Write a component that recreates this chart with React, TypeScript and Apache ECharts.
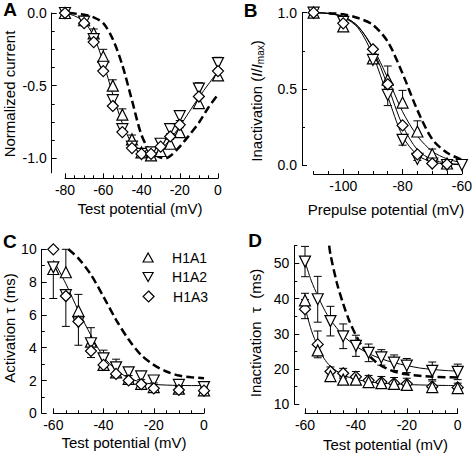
import React, { useEffect, useRef } from "react";
import * as echarts from "echarts";

const FONT = '"Liberation Sans", Arial, Helvetica, sans-serif';

// ---------- Series names ----------
const NAMES = ["H1A1", "H1A2", "H1A3"];

// ---------- Panel A: normalized current vs test potential ----------
const A_X = [-80, -70, -65, -60, -55, -50, -45, -40, -35, -30, -25, -20, -10, 0];
const A_H1A1 = [0, -0.05, -0.14, -0.3, -0.5, -0.7, -0.87, -0.96, -0.98, -0.95, -0.9, -0.82, -0.62, -0.43];
const A_H1A1_ERR = [0, 0, 0.03, 0.05, 0.04, 0.04, 0.03, 0.02, 0.02, 0.02, 0.03, 0.03, 0.04, 0.03];
const A_H1A2 = [0, -0.06, -0.18, -0.37, -0.6, -0.8, -0.92, -0.97, -0.96, -0.9, -0.8, -0.71, -0.52, -0.345];
const A_H1A2_ERR = [0, 0, 0.02, 0.04, 0.03, 0.02, 0.02, 0.02, 0.02, 0.03, 0.03, 0.03, 0.04, 0.04];
const A_H1A3 = [0, -0.07, -0.2, -0.4, -0.64, -0.82, -0.93, -0.97, -0.97, -0.92, -0.85, -0.77, -0.575, -0.4];
const A_FIT_X = [-80, -75, -70, -65, -60, -55, -50, -45, -40, -35, -30, -25, -20, -15, -10, -5, 0];
const A_FIT = [0, -0.02, -0.06, -0.16, -0.34, -0.56, -0.76, -0.9, -0.97, -0.98, -0.94, -0.87, -0.78, -0.68, -0.58, -0.49, -0.4];
const A_DASH_X = [-78, -75, -70, -65, -60, -55, -50, -45, -40, -35, -30, -27.5, -25, -20, -15, -10, -5, 0];
const A_DASH = [0, -0.003, -0.012, -0.03, -0.07, -0.18, -0.36, -0.6, -0.84, -0.96, -0.995, -1.0, -0.985, -0.92, -0.84, -0.755, -0.65, -0.56];

// ---------- Panel B: inactivation vs prepulse potential ----------
const B_X = [-110, -100, -90, -85, -80, -75, -70, -65, -60];
const B_H1A1 = [1.0, 0.91, 0.7, 0.56, 0.41, 0.22, 0.07, 0.01, null];
const B_H1A1_ERR = [0, 0.01, 0.02, 0.09, 0.08, 0.07, 0.035, 0, 0];
const B_H1A2 = [1.0, 0.94, 0.69, 0.46, 0.165, 0.04, 0.01, 0.0, 0.0];
const B_H1A2_ERR = [0, 0.01, 0.02, 0.07, 0.035, 0.01, 0, 0, 0];
const B_H1A3 = [1.0, 0.93, 0.76, 0.53, 0.26, 0.07, 0.01, 0.005, null];
const B_FIT_X = [-110, -105, -100, -95, -90, -85, -80, -75, -70, -65, -60];
const B_FIT_H1A1 = [1.0, 0.995, 0.975, 0.91, 0.77, 0.57, 0.35, 0.19, 0.09, 0.04, 0.015];
const B_FIT_H1A2 = [1.0, 0.995, 0.97, 0.9, 0.72, 0.45, 0.19, 0.065, 0.02, 0.006, 0.002];
const B_FIT_H1A3 = [1.0, 0.995, 0.975, 0.91, 0.76, 0.52, 0.26, 0.1, 0.035, 0.012, 0.004];
const B_DASH_X = [-105, -100, -95, -90, -85, -80, -75, -70, -65, -60];
const B_DASH = [0.997, 0.99, 0.965, 0.92, 0.81, 0.6, 0.36, 0.17, 0.08, 0.035];

// ---------- Panel C: activation tau ----------
const C_X = [-60, -55, -50, -45, -40, -35, -30, -25, -20, -10, 0];
const C_H1A1 = [8.8, 8.6, 6.25, 4.37, 2.95, 2.5, 2.1, 1.8, 1.6, 1.5, 1.4];
const C_H1A1_ERR = [0, 1.4, 1.0, 0.85, 0.9, 0.8, 0.65, 0.75, 0.6, 0.2, 0.2];
const C_H1A2 = [8.9, 7.2, 5.55, 4.27, 3.35, 2.8, 2.5, 2.25, 2.0, 1.73, 1.6];
const C_H1A2_ERR = [1.9, 1.9, 1.4, 0.87, 0.4, 0.3, 0.2, 0.2, 0.15, 0.1, 0.1];
const C_H1A3 = [10.0, 7.15, 5.6, 3.8, 2.95, 2.4, 2.0, 1.77, 1.52, 1.42, 1.38];
const C_FIT_X = [-60, -55, -50, -45, -40, -35, -30, -25, -20, -15, -10, -5, 0];
const C_FIT = [9.35, 7.9, 6.25, 4.75, 3.45, 2.65, 2.15, 1.9, 1.77, 1.72, 1.7, 1.69, 1.69];
const C_DASH_X = [-54, -50, -45, -40, -35, -30, -25, -20, -15, -10, -5, 0];
const C_DASH = [10.0, 9.45, 8.45, 7.1, 5.7, 4.5, 3.55, 2.95, 2.55, 2.3, 2.2, 2.13];

// ---------- Panel D: inactivation tau ----------
const D_X = [-60, -55, -50, -45, -40, -35, -30, -25, -20, -10, 0];
const D_H1A1 = [39.5, 25.3, 18.0, 17.0, 17.0, 16.3, 16.0, 15.8, 15.5, 14.9, 14.6];
const D_H1A1_ERR = [2.0, 1.5, 0.8, 0.8, 0.8, 0.7, 0.7, 0.7, 0.7, 0.6, 0.6];
const D_H1A2 = [50.5, 39.8, 33.6, 29.3, 26.6, 24.6, 23.3, 21.8, 21.0, 19.5, 19.2];
const D_H1A2_ERR = [4.3, 6.5, 4.2, 3.5, 3.0, 2.5, 2.2, 2.2, 2.0, 2.5, 2.2];
const D_H1A3 = [37.0, 27.0, 19.3, 18.8, 17.8, 16.8, 16.3, 16.0, 15.8, 15.0, 14.8];
const D_H1A3_ERR = [2.7, 3.8, 1.3, 1.4, 1.5, 1.4, 1.6, 1.6, 1.6, 1.6, 1.2];
const D_FIT_X = [-60, -57.5, -55, -52.5, -50, -45, -40, -35, -30, -25, -20, -15, -10, -5, 0];
const D_FIT_H1A2 = [50.5, 45, 40.8, 37, 34, 29.5, 26.5, 24.4, 22.9, 21.8, 21.0, 20.3, 19.9, 19.6, 19.4];
const D_FIT_LOW = [37.5, 31, 26.5, 23, 20.8, 18.3, 17.1, 16.4, 16.0, 15.8, 15.6, 15.5, 15.4, 15.35, 15.3];
const D_DASH_X = [-50.5, -50, -47.5, -45, -42.5, -40, -37.5, -35, -32.5, -30, -25, -20, -15, -10, -5, 0];
const D_DASH = [55, 52.5, 44.5, 38.5, 33.5, 29.6, 26.4, 24, 22.2, 20.9, 19.3, 18.5, 18.1, 17.8, 17.7, 17.6];

// ---------- Tick values ----------
const A_XTICKS = [-80, -60, -40, -20, 0];
const A_XMINOR = [-75, -70, -65, -55, -50, -45, -35, -30, -25, -15, -10, -5];
const A_YTICKS = [-1, -0.5, 0];
const A_YMINOR = [-0.875, -0.75, -0.625, -0.375, -0.25, -0.125];
const B_XTICKS = [-100, -80, -60];
const B_XMINOR = [-110, -105, -95, -90, -85, -75, -70, -65];
const B_YTICKS = [0, 0.5, 1];
const B_YMINOR = [0.25, 0.75];
const C_XTICKS = [-60, -40, -20, 0];
const C_XMINOR = [-55, -50, -45, -35, -30, -25, -15, -10, -5];
const C_YTICKS = [0, 2, 4, 6, 8, 10];
const C_YMINOR = [1, 3, 5, 7, 9];
const D_XTICKS = [-60, -40, -20, 0];
const D_XMINOR = [-55, -50, -45, -35, -30, -25, -15, -10, -5];
const D_YTICKS = [10, 20, 30, 40, 50];
const D_YMINOR = [15, 25, 35, 45, 55];

type Dir = "up" | "down" | "both";

const pairs = (xs: number[], ys: (number | null)[]) =>
  xs.map((x, i) => [x, ys[i]]).filter((p) => p[1] !== null && p[1] !== undefined);

const errData = (xs: number[], ys: (number | null)[], es: number[], dir: Dir) =>
  xs
    .map((x, i) => {
      const y = ys[i];
      const e = es[i];
      if (y === null || y === undefined || !e) return null;
      const lo = dir === "up" ? y : y - e;
      const hi = dir === "down" ? y : y + e;
      return [x, y, lo, hi];
    })
    .filter(Boolean);

const SYM: Record<string, { symbol: string; rotate: number; size: number }> = {
  H1A1: { symbol: "triangle", rotate: 0, size: 11 },
  H1A2: { symbol: "triangle", rotate: 180, size: 11 },
  H1A3: { symbol: "diamond", rotate: 0, size: 11 },
};

const lineBlack = { color: "#000", width: 1 };

function makeAxes(
  grid: number,
  dim: "x" | "y",
  min: number,
  max: number,
  offset: number,
  major: number[],
  minor: number[],
  fmt: (v: number) => string
) {
  const pos = dim === "x" ? "bottom" : "left";
  const main = {
    type: "value",
    gridIndex: grid,
    min,
    max,
    position: pos,
    offset,
    axisLine: { show: true, onZero: false, lineStyle: lineBlack },
    axisTick: { show: true, inside: true, length: 5, customValues: major, lineStyle: lineBlack },
    axisLabel: {
      show: true,
      customValues: major,
      margin: 5,
      fontSize: 14,
      fontFamily: FONT,
      color: "#000",
      formatter: (v: number) => fmt(v),
    },
    splitLine: { show: false },
  };
  const mn = {
    type: "value",
    gridIndex: grid,
    min,
    max,
    position: pos,
    offset,
    axisLine: { show: false, onZero: false },
    axisTick: { show: true, inside: true, length: 3, customValues: minor, lineStyle: lineBlack },
    axisLabel: { show: false },
    splitLine: { show: false },
  };
  return [main, mn];
}

const intFmt = (v: number) => String(Math.round(v));
const oneFmt = (v: number) => v.toFixed(1);

function scatter(p: number, name: string, xs: number[], ys: (number | null)[]) {
  const s = SYM[name];
  return {
    type: "scatter",
    name,
    xAxisIndex: 2 * p,
    yAxisIndex: 2 * p,
    data: pairs(xs, ys),
    symbol: s.symbol,
    symbolRotate: s.rotate,
    symbolSize: s.size,
    itemStyle: { color: "#fff", borderColor: "#000", borderWidth: 1.2, opacity: 1 },
    emphasis: { disabled: true },
    clip: false,
    z: 4,
  };
}

function errSeries(p: number, xs: number[], ys: (number | null)[], es: number[], dir: Dir) {
  return {
    type: "custom",
    name: "err",
    xAxisIndex: 2 * p,
    yAxisIndex: 2 * p,
    data: errData(xs, ys, es, dir),
    encode: { x: 0, y: 1 },
    clip: false,
    z: 3,
    renderItem: (params: any, api: any) => {
      const x = api.value(0);
      const y = api.value(1);
      const lo = api.value(2);
      const hi = api.value(3);
      const pL = api.coord([x, lo]);
      const pH = api.coord([x, hi]);
      const w = 4;
      const st = { stroke: "#000", lineWidth: 1 };
      const children: any[] = [
        { type: "line", shape: { x1: pL[0], y1: pL[1], x2: pH[0], y2: pH[1] }, style: st },
      ];
      if (hi !== y)
        children.push({ type: "line", shape: { x1: pH[0] - w, y1: pH[1], x2: pH[0] + w, y2: pH[1] }, style: st });
      if (lo !== y)
        children.push({ type: "line", shape: { x1: pL[0] - w, y1: pL[1], x2: pL[0] + w, y2: pL[1] }, style: st });
      return { type: "group", children };
    },
  };
}

function curve(p: number, xs: number[], ys: number[], dashed: boolean) {
  return {
    type: "line",
    name: dashed ? "dash" : "fit",
    xAxisIndex: 2 * p,
    yAxisIndex: 2 * p,
    data: pairs(xs, ys),
    symbol: "none",
    showSymbol: false,
    smooth: 0.3,
    lineStyle: dashed
      ? { color: "#000", width: 2.5, type: [8, 4] }
      : { color: "#000", width: 1 },
    emphasis: { disabled: true },
    clip: false,
    silent: true,
    z: 2,
  };
}

function title(text: string, x: number, y: number, rotate = false, size = 15) {
  return {
    type: "text",
    x,
    y,
    rotation: rotate ? Math.PI / 2 : 0,
    style: {
      text,
      fontSize: size,
      fontFamily: FONT,
      fill: "#000",
      align: "center",
      verticalAlign: "middle",
    },
  };
}

function letter(text: string, x: number, y: number) {
  return {
    type: "text",
    x,
    y,
    style: {
      text,
      fontSize: 19,
      fontWeight: "bold",
      fontFamily: FONT,
      fill: "#000",
      align: "center",
      verticalAlign: "middle",
    },
  };
}

export default function App() {
  const ref = useRef<HTMLDivElement>(null);
  useEffect(() => {
    if (!ref.current) return;
    const chart = echarts.init(ref.current, null, { renderer: "svg" });

    const grids = [
      { left: 65, top: 13, width: 153, height: 159.8 },
      { left: 313.6, top: 12.7, width: 152, height: 152.3 },
      { left: 53.3, top: 249.3, width: 150.7, height: 164 },
      { left: 305, top: 245.7, width: 152.7, height: 158.6 },
    ];

    const xAxes = [
      ...makeAxes(0, "x", -80, 0, 5.5, A_XTICKS, A_XMINOR, intFmt),
      ...makeAxes(1, "x", -110, -60, 9, B_XTICKS, B_XMINOR, intFmt),
      ...makeAxes(2, "x", -60, 0, 0, C_XTICKS, C_XMINOR, intFmt),
      ...makeAxes(3, "x", -60, 0, 9, D_XTICKS, D_XMINOR, intFmt),
    ];
    const yAxes = [
      ...makeAxes(0, "y", -1.1, 0, 13.3, A_YTICKS, A_YMINOR, oneFmt),
      ...makeAxes(1, "y", 0, 1, 11.6, B_YTICKS, B_YMINOR, oneFmt),
      ...makeAxes(2, "y", 0, 10, 11.6, C_YTICKS, C_YMINOR, intFmt),
      ...makeAxes(3, "y", 10, 55, 10.7, D_YTICKS, D_YMINOR, intFmt),
    ];

    const series: any[] = [
      // Panel A
      curve(0, A_FIT_X, A_FIT, false),
      curve(0, A_DASH_X, A_DASH, true),
      errSeries(0, A_X, A_H1A1, A_H1A1_ERR, "up"),
      errSeries(0, A_X, A_H1A2, A_H1A2_ERR, "both"),
      scatter(0, "H1A1", A_X, A_H1A1),
      scatter(0, "H1A2", A_X, A_H1A2),
      scatter(0, "H1A3", A_X, A_H1A3),
      // Panel B
      curve(1, B_FIT_X, B_FIT_H1A1, false),
      curve(1, B_FIT_X, B_FIT_H1A2, false),
      curve(1, B_FIT_X, B_FIT_H1A3, false),
      curve(1, B_DASH_X, B_DASH, true),
      errSeries(1, B_X, B_H1A1, B_H1A1_ERR, "up"),
      errSeries(1, B_X, B_H1A2, B_H1A2_ERR, "down"),
      scatter(1, "H1A1", B_X, B_H1A1),
      scatter(1, "H1A2", B_X, B_H1A2),
      scatter(1, "H1A3", B_X, B_H1A3),
      // Panel C
      curve(2, C_FIT_X, C_FIT, false),
      curve(2, C_DASH_X, C_DASH, true),
      errSeries(2, C_X, C_H1A1, C_H1A1_ERR, "up"),
      errSeries(2, C_X, C_H1A2, C_H1A2_ERR, "down"),
      scatter(2, "H1A1", C_X, C_H1A1),
      scatter(2, "H1A2", C_X, C_H1A2),
      scatter(2, "H1A3", C_X, C_H1A3),
      // Panel D
      curve(3, D_FIT_X, D_FIT_H1A2, false),
      curve(3, D_FIT_X, D_FIT_LOW, false),
      curve(3, D_DASH_X, D_DASH, true),
      errSeries(3, D_X, D_H1A2, D_H1A2_ERR, "both"),
      errSeries(3, D_X, D_H1A3, D_H1A3_ERR, "both"),
      errSeries(3, D_X, D_H1A1, D_H1A1_ERR, "both"),
      scatter(3, "H1A2", D_X, D_H1A2),
      scatter(3, "H1A3", D_X, D_H1A3),
      scatter(3, "H1A1", D_X, D_H1A1),
    ];

    const legendCenters = [257.5, 277, 296.5];
    const legendIcons = ["triangle", "path://M0,0L10,0L5,9Z", "diamond"];
    const legend = NAMES.map((n, i) => ({
      data: [{ name: n, icon: legendIcons[i] }],
      left: 142.5,
      top: legendCenters[i] - 7,
      orient: "horizontal",
      padding: 0,
      itemWidth: i === 2 ? 11 : 10,
      itemHeight: i === 2 ? 11 : 9,
      selectedMode: false,
      itemStyle: { color: "#fff", borderColor: "#000", borderWidth: 1.2, opacity: 1 },
      textStyle: { fontSize: 14, fontFamily: FONT, color: "#000", padding: [0, 0, 0, 14] },
    }));

    const graphic = [
      letter("A", 10, 9.5),
      letter("B", 250.5, 10),
      letter("C", 9.8, 241),
      letter("D", 255, 240),
      title("Test potential (mV)", 140, 208),
      title("Prepulse potential (mV)", 386, 209),
      title("Test potential (mV)", 124, 442),
      title("Test potential (mV)", 385.5, 444),
      title("Normalized current", 9.5, 94, true),
      title("Activation \u03c4 (ms)", 9.8, 328, true),
      title("Inactivation  \u03c4  (ms)", 255, 333, true),
      {
        type: "text",
        x: 256,
        y: 101,
        rotation: Math.PI / 2,
        style: {
          text: "{n|Inactivation (}{i|I}{n|/}{i|I}{s|max}{n|)}",
          fontSize: 15,
          fontFamily: FONT,
          fill: "#000",
          align: "center",
          verticalAlign: "middle",
          rich: {
            n: { fontSize: 15, fontFamily: FONT, lineHeight: 18 },
            i: { fontSize: 15, fontFamily: FONT, fontStyle: "italic", lineHeight: 18 },
            s: { fontSize: 10, fontFamily: FONT, lineHeight: 10, verticalAlign: "bottom" },
          },
        },
      },
    ];

    chart.setOption({
      animation: false,
      backgroundColor: "#fff",
      grid: grids,
      xAxis: xAxes,
      yAxis: yAxes,
      legend,
      graphic,
      series,
    });
    return () => chart.dispose();
  }, []);

  return (
    <div
      ref={ref}
      style={{ position: "fixed", left: 0, top: 0, width: 475, height: 453, background: "#fff" }}
    />
  );
}
